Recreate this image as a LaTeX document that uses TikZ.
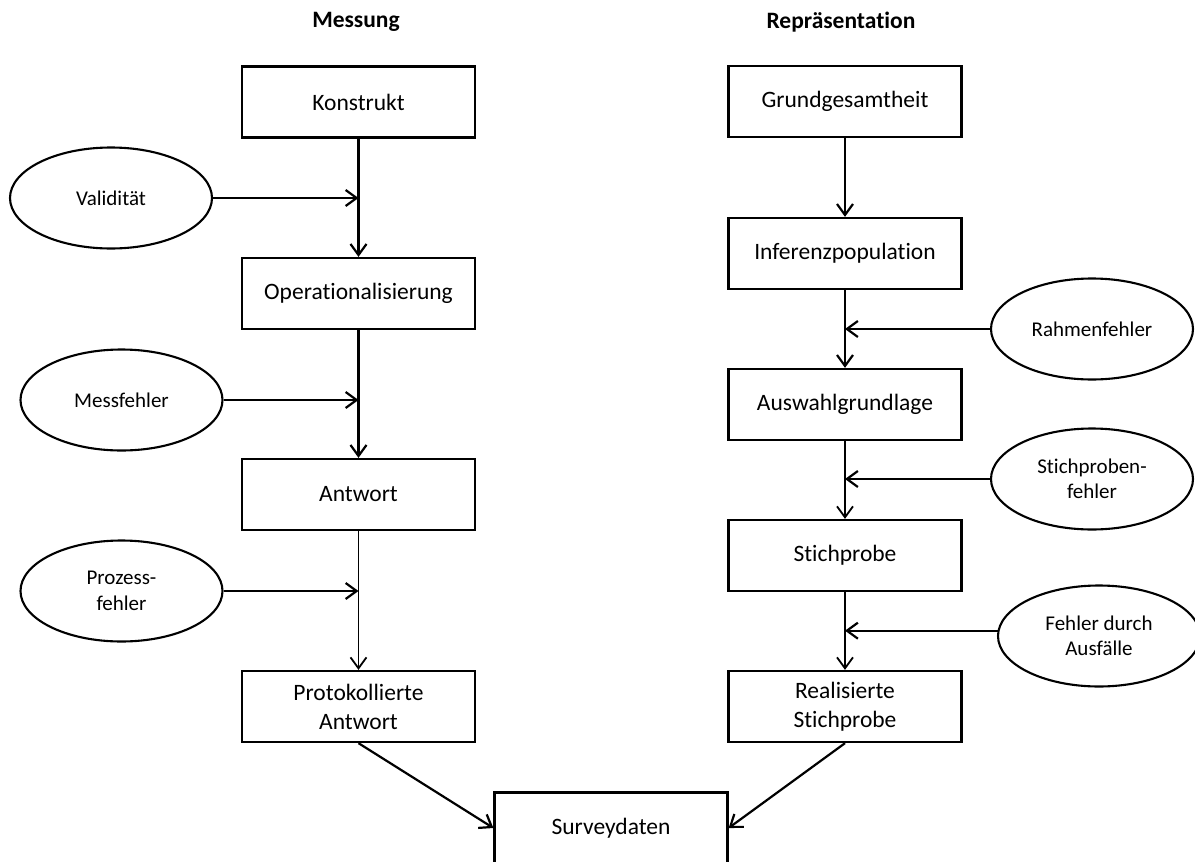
\documentclass[tikz,border=0pt]{standalone}
\usepackage{fontspec}
\setmainfont{Carlito}[Ligatures=NoCommon]
\usetikzlibrary{arrows.meta,shapes.geometric}
\begin{document}
\begin{tikzpicture}[x=1pt,y=-1pt,
  box/.style={draw,line width=2.3pt,minimum width=233pt,minimum height=71pt,inner sep=0pt,align=center,font=\fontsize{23.5}{29}\selectfont},
  oval/.style={draw,ellipse,line width=2.1pt,minimum width=202pt,minimum height=101pt,inner sep=0pt,align=center,font=\fontsize{21}{25.5}\selectfont},
  title/.style={font=\fontsize{23.5}{28}\selectfont\bfseries},
  arr/.style={line width=2.2pt,-{Straight Barb[length=11pt,width=16pt,line width=2.2pt]}},
  tarr/.style={line width=1.6pt,-{Straight Barb[length=11pt,width=16pt,line width=1.8pt]}}]
\useasboundingbox (0,0) rectangle (1195,862);
\clip (0,0) rectangle (1195,862);
% titles
\node[title] (tm) at (356,22) {Messung};
\node[title] (tr) at (841,22) {Repräsentation};
% left column
\node[box] (kon) at (358.5,102) {Konstrukt};
\node[box] (ope) at (358.5,293.5) {Operationalisierung};
\node[box] (ant) at (358.5,494.5) {Antwort};
\node[box] (pro) at (358.5,706.5) {Protokollierte\\Antwort};
\node[oval] (val) at (111,198) {Validität};
\node[oval] (mes) at (121.5,400) {Messfehler};
\node[oval] (prz) at (121.5,591) {Prozess-\\fehler};
% right column
\node[box] (gru) at (845,101.5) {Grundgesamtheit};
\node[box] (inf) at (845,253.5) {Inferenzpopulation};
\node[box] (aus) at (845,404.5) {Auswahlgrundlage};
\node[box] (sti) at (845,555.5) {Stichprobe};
\node[box] (rea) at (845,706.5) {Realisierte\\Stichprobe};
\node[oval] (rah) at (1092,329) {Rahmenfehler};
\node[oval] (stf) at (1092,479) {Stichproben-\\fehler};
\node[oval] (fda) at (1099,636) {Fehler durch\\Ausfälle};
% bottom
\node[box] (sur) at (611,828) {Surveydaten};
% left connectors
\draw[arr] (kon) -- (ope);
\draw[arr] (ope) -- (ant);
\draw[tarr] (ant) -- (pro);
\draw[arr] (val) -- (val -| kon.south);
\draw[arr] (mes) -- (mes -| ope.south);
\draw[arr] (prz) -- (prz -| ant.south);
% right connectors
\draw[arr] (gru) -- (inf);
\draw[arr] (inf) -- (aus);
\draw[tarr] (aus) -- (sti);
\draw[tarr] (sti) -- (rea);
\draw[arr] (rah) -- (rah -| inf.south);
\draw[arr] (stf) -- (stf -| aus.south);
\draw[arr] (fda.177) -- (fda.177 -| sti.south);
% to surveydaten
\draw[arr] (pro.south) -- (sur.west);
\draw[arr] (rea.south) -- (sur.east);
\end{tikzpicture}
\end{document}
